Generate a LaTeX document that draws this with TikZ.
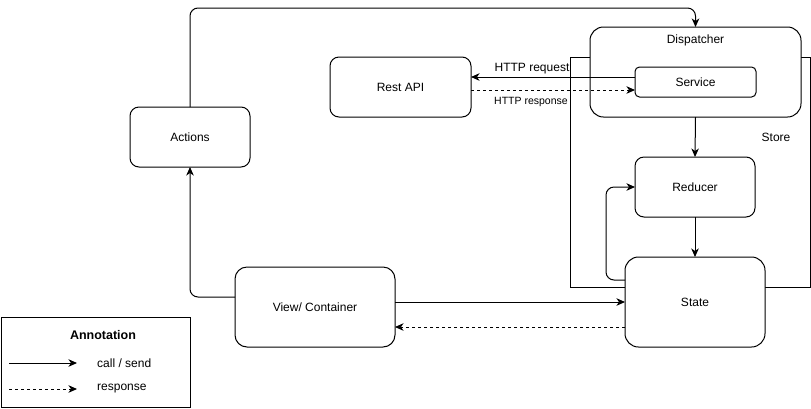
\documentclass[tikz,border=0pt]{standalone}
\usepackage{fontspec}
\setmainfont{Liberation Sans}
\usetikzlibrary{arrows.meta}

\begin{document}
\begin{tikzpicture}[x=1pt,y=-1pt,
  lbl/.style={font=\fontsize{12}{14}\selectfont, inner sep=0pt},
  smalllbl/.style={font=\fontsize{10.5}{12}\selectfont, inner sep=0pt},
  block/.style n args={3}{draw, fill=white, line width=1pt, rounded corners=#3,
    minimum width=#1, minimum height=#2, inner sep=0pt, outer sep=0pt,
    font=\fontsize{12}{14}\selectfont},
  frame/.style n args={2}{draw, line width=1pt, minimum width=#1,
    minimum height=#2, inner sep=0pt, outer sep=0pt},
  tip/.style={-{Stealth[length=8.5pt,width=7.5pt,inset=2.5pt]}},
  call/.style={draw, line width=1pt, tip},
  resp/.style={call, dash pattern=on 3pt off 3pt},
  elbow/.style={rounded corners=8pt}
]
% canvas
\path[fill=white] (0,0) rectangle (811,408);
\useasboundingbox (0,0) rectangle (811,408);

% store container (behind the dispatcher and the state)
\node[frame={240pt}{230pt}] (store) at (690,172) {};
\node[lbl] (storelbl) at (776,137) {Store};

% blocks
\node[block={211pt}{90pt}{13.5pt}] (disp) at (695.5,72) {};
\node[lbl] (disptext) at (695.5,40) {Dispatcher};
\node[block={121pt}{30pt}{4.5pt}] (svc) at (695.5,82) {Service};
\node[block={141pt}{60pt}{9pt}] (api) at (400.5,87) {Rest API};
\node[block={120pt}{60pt}{9pt}] (actions) at (190,137) {Actions};
\node[block={120pt}{60pt}{9pt}] (red) at (695,187) {Reducer};
\node[block={140pt}{90pt}{13.5pt}] (state) at (695,302) {State};
\node[block={160pt}{80pt}{12pt}] (view) at (315,307) {View/ Container};

% bend points
\coordinate (topbend) at (695.5,8);
\coordinate (req) at (600,77);
\coordinate (res) at (600,90);
\coordinate (loop) at (606,280);
\coordinate (back) at (600,327);
\coordinate (viewbend) at (190,297);

% connectors
\draw[call, elbow] (actions.north) |- (topbend) -- (disp.north);
\draw[call] (svc.west |- req) -- (api.east |- req);
\draw[resp] (api.east |- res) -- (svc.west |- res);
\node[lbl] (reqlbl) at (532,69) {HTTP request};
\node[smalllbl] (reslbl) at (531,102) {HTTP response};
\draw[call] (disp.south) -- (red.north);
\draw[call] (red.south) -- (state.north);
\draw[call, elbow] (state.west |- loop) -- (loop) |- (red.west);
\draw[call] (view.east |- state.west) -- (state.west);
\draw[resp] (state.west |- back) -- (view.east |- back);
\draw[call, elbow] (view.west |- viewbend) -| (actions.south);

% legend
\node[frame={189pt}{90pt}] (legend) at (95.5,362) {};
\node[lbl, font=\fontsize{12.5}{14}\selectfont\bfseries] (legtitle) at (103,335) {Annotation};
\coordinate (callA) at (9,363);
\coordinate (callB) at (77,363);
\coordinate (respA) at (9,389);
\coordinate (respB) at (77,389);
\draw[call] (callA) -- (callB);
\draw[resp] (respA) -- (respB);
\node[lbl, anchor=west] (calltext) at (97,363) {call / send};
\node[lbl, anchor=west] (resptext) at (97,389) {response};
\end{tikzpicture}
\end{document}
